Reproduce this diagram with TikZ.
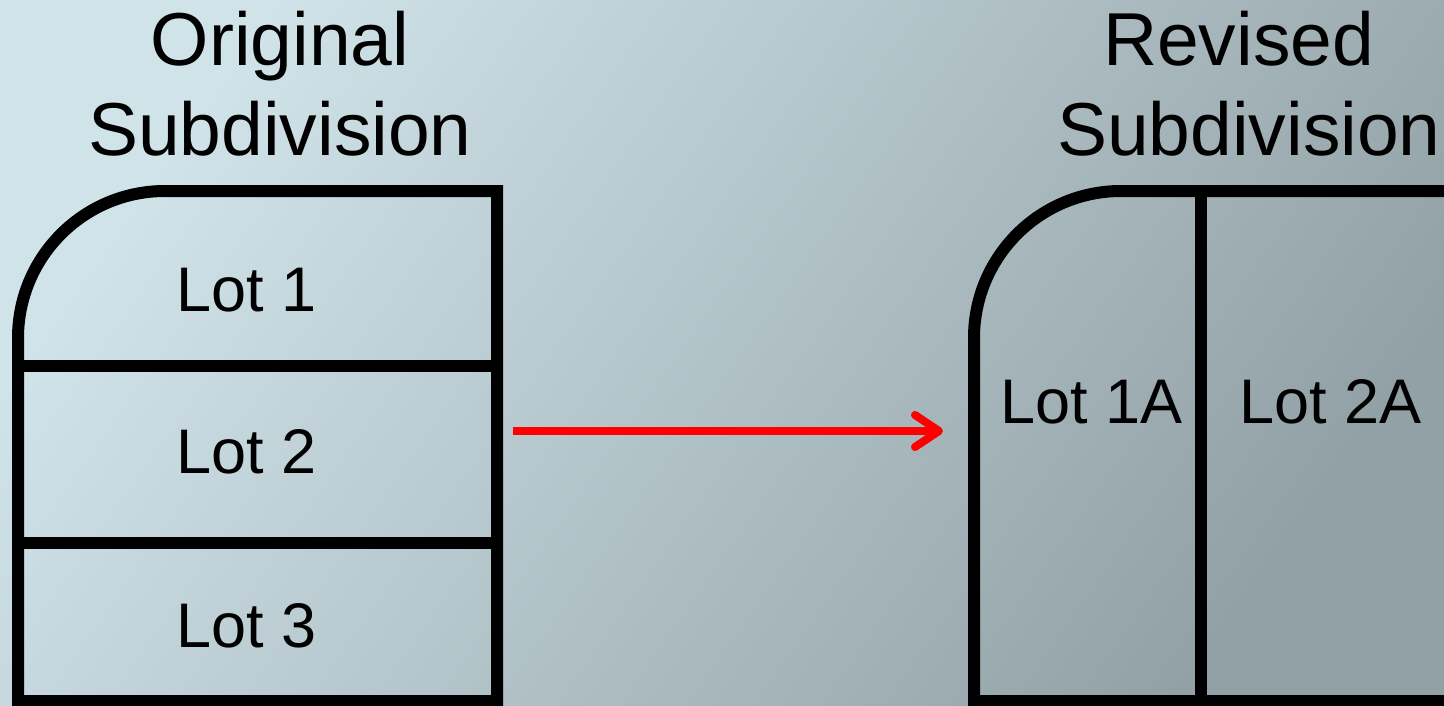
\documentclass[tikz,border=0pt]{standalone}
\usepackage{fontspec}
\setmainfont{Liberation Sans}
\usetikzlibrary{arrows.meta}
\definecolor{bgLight}{RGB}{208,227,233}
\definecolor{bgDark}{RGB}{146,161,166}
\begin{document}
\begin{tikzpicture}[x=1pt,y=-1pt,
  plot/.style={draw=black, line width=12pt, line join=miter},
  title/.style={inner sep=0pt, align=center, font=\fontsize{75}{90}\selectfont},
  lot/.style={inner sep=0pt, anchor=base, font=\fontsize{63}{76}\selectfont},
  change/.style={draw=red, line width=8pt,
    -{Straight Barb[length=24pt,width=32pt,round]}}]
  % canvas and gradient background
  \useasboundingbox (0,0) rectangle (1444,705);
  \shade[top color=bgLight, bottom color=bgDark, shading angle=55]
    (0,0) rectangle (1444,705);

  % headings (anchored on the baseline of the second line)
  \node[title, anchor=base] (origTitle) at (280,155) {Original\\Subdivision};
  \node[title, anchor=base] (revTitle) at (1249,155) {Revised\hspace*{0.28em}\\Subdivision};

  % original plat: three stacked lots
  \draw[plot] (18,701) [rounded corners=147pt] -- (18,191) [sharp corners] -- (497,191)
    -- (497,701) -- cycle;
  \draw[plot] (18,366) -- (497,366);
  \draw[plot] (18,543) -- (497,543);
  \node[lot] (lot1) at (247,311) {Lot 1};
  \node[lot] (lot2) at (247,473) {Lot 2};
  \node[lot] (lot3) at (247,647) {Lot 3};

  % revised plat: two side-by-side lots
  \draw[plot] (1460,701) -- (974,701) [rounded corners=147pt] -- (974,191)
    [sharp corners] -- (1460,191);
  \draw[plot] (1201,191) -- (1201,701);
  \node[lot] (lot1A) at (1092,423) {Lot 1A};
  \node[lot] (lot2A) at (1331,423) {Lot 2A};

  % replat arrow
  \coordinate (origEast) at (513,431);
  \coordinate (revWest) at (943,431);
  \draw[change] (origEast) -- (revWest);
\end{tikzpicture}
\end{document}
